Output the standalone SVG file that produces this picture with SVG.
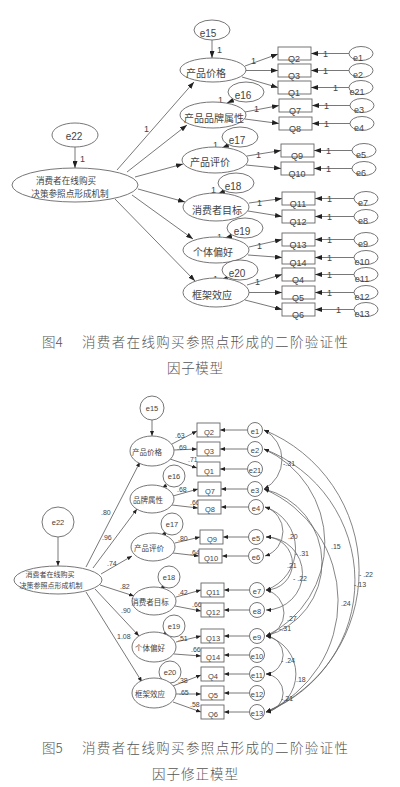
<svg xmlns="http://www.w3.org/2000/svg" width="400" height="787" viewBox="0 0 400 787">
<style>
text{font-family:"Liberation Sans","Noto Sans CJK SC",sans-serif;fill:#444}
.cn{font-family:"Noto Sans CJK SC",sans-serif}
.t9{font-size:9px}
.t85{font-size:8.6px}
.t10{font-size:10px}
.t7{font-size:7px}
.t75{font-size:7.5px}
.m{text-anchor:middle}
.sh{fill:#fff;stroke:#666;stroke-width:0.9}
.ln{fill:none;stroke:#555;stroke-width:0.8}
.a1{marker-end:url(#ah)}
.a2{marker-end:url(#bh)}
.cv{fill:none;stroke:#666;stroke-width:0.8;marker-start:url(#bs);marker-end:url(#bh)}
.cap{font-family:"Noto Sans CJK SC",sans-serif;font-size:13.5px;font-weight:300;fill:#555}
</style>
<defs>
<marker id="ah" markerUnits="userSpaceOnUse" markerWidth="7" markerHeight="5" refX="7" refY="2.5" orient="auto"><path d="M0,0 L7,2.5 L0,5 z" fill="#222"/></marker>
<marker id="bh" markerUnits="userSpaceOnUse" markerWidth="5" markerHeight="4" refX="5" refY="2" orient="auto"><path d="M0,0 L5,2 L0,4 z" fill="#222"/></marker>
<marker id="bs" markerUnits="userSpaceOnUse" markerWidth="5" markerHeight="4" refX="5" refY="2" orient="auto-start-reverse"><path d="M0,0 L5,2 L0,4 z" fill="#222"/></marker>
</defs>
<rect width="400" height="787" fill="#fff"/>

<!-- ===== Figure 4 ===== -->
<g id="fig4-connectors">
<line class="ln a1" x1="75" y1="147" x2="75" y2="168"/>
<line class="ln a1" x1="117" y1="170" x2="194" y2="82"/>
<line class="ln a1" x1="127" y1="172" x2="187" y2="125"/>
<line class="ln a1" x1="135" y1="177" x2="183" y2="164"/>
<line class="ln a1" x1="138" y1="189" x2="185" y2="202"/>
<line class="ln a1" x1="132" y1="195" x2="193" y2="239"/>
<line class="ln a1" x1="115" y1="199" x2="195" y2="281"/>
<line class="ln a1" x1="212" y1="40" x2="212" y2="58"/>
<line class="ln a1" x1="234" y1="100" x2="227" y2="103"/>
<line class="ln a1" x1="229" y1="145" x2="222" y2="148"/>
<line class="ln a1" x1="225" y1="191" x2="218" y2="194"/>
<line class="ln a1" x1="232" y1="236" x2="225" y2="238"/>
<line class="ln a1" x1="228" y1="278" x2="221" y2="280"/>
<line class="ln a1" x1="245" y1="66" x2="278" y2="54"/>
<line class="ln a1" x1="246" y1="70.5" x2="278" y2="70.5"/>
<line class="ln a1" x1="242" y1="77" x2="278" y2="87.5"/>
<line class="ln a1" x1="245" y1="112" x2="279" y2="105.5"/>
<line class="ln a1" x1="245" y1="119" x2="279" y2="123.5"/>
<line class="ln a1" x1="247" y1="156" x2="281" y2="150.5"/>
<line class="ln a1" x1="246" y1="165" x2="281" y2="168.5"/>
<line class="ln a1" x1="249" y1="203" x2="282" y2="198.5"/>
<line class="ln a1" x1="248" y1="211" x2="282" y2="216.5"/>
<line class="ln a1" x1="249" y1="247" x2="282" y2="239.5"/>
<line class="ln a1" x1="248" y1="255" x2="282" y2="257.5"/>
<line class="ln a1" x1="247" y1="285" x2="282" y2="274.5"/>
<line class="ln a1" x1="249" y1="292.5" x2="282" y2="292.5"/>
<line class="ln a1" x1="245" y1="300" x2="282" y2="309.5"/>
<line class="ln a1" x1="349" y1="53.5" x2="311" y2="53.5"/>
<line class="ln a1" x1="349" y1="70.5" x2="311" y2="70.5"/>
<line class="ln a1" x1="349" y1="87.5" x2="311" y2="87.5"/>
<line class="ln a1" x1="350" y1="105.5" x2="312" y2="105.5"/>
<line class="ln a1" x1="350" y1="123.5" x2="312" y2="123.5"/>
<line class="ln a1" x1="352" y1="150.5" x2="314" y2="150.5"/>
<line class="ln a1" x1="352" y1="168.5" x2="314" y2="168.5"/>
<line class="ln a1" x1="354" y1="198.5" x2="315" y2="198.5"/>
<line class="ln a1" x1="354" y1="216.5" x2="315" y2="216.5"/>
<line class="ln a1" x1="354" y1="239.5" x2="315" y2="239.5"/>
<line class="ln a1" x1="354" y1="257.5" x2="315" y2="257.5"/>
<line class="ln a1" x1="354" y1="274.5" x2="315" y2="274.5"/>
<line class="ln a1" x1="354" y1="292.5" x2="315" y2="292.5"/>
<line class="ln a1" x1="354" y1="309.5" x2="315" y2="309.5"/>
</g>
<g id="fig4-labels" class="t9">
<text x="80" y="162">1</text>
<text x="144" y="132">1</text>
<text x="217" y="53">1</text>
<text x="218" y="103">1</text>
<text x="213" y="148">1</text>
<text x="211" y="193">1</text>
<text x="217" y="240">1</text>
<text x="213" y="282">1</text>
<text x="251" y="64">1</text>
<text x="254" y="112">1</text>
<text x="256" y="158">1</text>
<text x="257" y="206">1</text>
<text x="257" y="249">1</text>
<text x="255" y="285">1</text>
<text x="323" y="57">1</text>
<text x="323" y="74">1</text>
<text x="333" y="91">1</text>
<text x="324" y="109">1</text>
<text x="324" y="127">1</text>
<text x="326" y="154">1</text>
<text x="326" y="172">1</text>
<text x="327" y="202">1</text>
<text x="327" y="220">1</text>
<text x="327" y="243">1</text>
<text x="327" y="261">1</text>
<text x="327" y="278">1</text>
<text x="327" y="296">1</text>
<text x="336" y="313">1</text>
</g>
<g id="f4-e22"><ellipse class="sh" cx="75" cy="135" rx="23" ry="12"/><text class="t10 m" x="74" y="140">e22</text></g>
<g id="f4-main"><ellipse class="sh" cx="75" cy="185" rx="63" ry="17"/><text class="cn t85 m" x="66" y="183.5">消费者在线购买</text><text class="cn t85 m" x="70" y="196.5">决策参照点形成机制</text></g>
<g id="f4-e15"><ellipse class="sh" cx="212" cy="30" rx="18" ry="10"/><text class="t10 m" x="208" y="37">e15</text></g>
<g id="f4-f1"><ellipse class="sh" cx="213" cy="70" rx="33" ry="12"/><text class="cn t10 m" x="206" y="77">产品价格</text></g>
<g id="f4-e16"><ellipse class="sh" cx="246" cy="92" rx="18" ry="10"/><text class="t10 m" x="243" y="99">e16</text></g>
<g id="f4-f2"><ellipse class="sh" cx="213" cy="115" rx="33" ry="13"/><text class="cn t10 m" x="214" y="122">产品品牌属性</text></g>
<g id="f4-e17"><ellipse class="sh" cx="240" cy="137" rx="18" ry="10"/><text class="t10 m" x="237" y="144">e17</text></g>
<g id="f4-f3"><ellipse class="sh" cx="215" cy="160" rx="33" ry="13"/><text class="cn t10 m" x="210" y="166">产品评价</text></g>
<g id="f4-e18"><ellipse class="sh" cx="236" cy="183" rx="18" ry="10"/><text class="t10 m" x="233" y="190">e18</text></g>
<g id="f4-f4"><ellipse class="sh" cx="216" cy="207" rx="33" ry="14"/><text class="cn t10 m" x="217" y="214">消费者目标</text></g>
<g id="f4-e19"><ellipse class="sh" cx="245" cy="228" rx="18" ry="10"/><text class="t10 m" x="242" y="235">e19</text></g>
<g id="f4-f5"><ellipse class="sh" cx="216" cy="250" rx="33" ry="13"/><text class="cn t10 m" x="213" y="256">个体偏好</text></g>
<g id="f4-e20"><ellipse class="sh" cx="240" cy="270" rx="18" ry="10"/><text class="t10 m" x="237" y="277">e20</text></g>
<g id="f4-f6"><ellipse class="sh" cx="216" cy="292.5" rx="33" ry="14.5"/><text class="cn t10 m" x="212" y="299">框架效应</text></g>
<g id="f4-q2"><rect class="sh" x="278" y="47" width="33" height="13"/><text class="t9 m" x="294" y="62">Q2</text></g>
<g id="f4-q3"><rect class="sh" x="278" y="64" width="33" height="13"/><text class="t9 m" x="294" y="79">Q3</text></g>
<g id="f4-q1"><rect class="sh" x="278" y="81" width="33" height="13"/><text class="t9 m" x="294" y="96">Q1</text></g>
<g id="f4-q7"><rect class="sh" x="279" y="99" width="33" height="13"/><text class="t9 m" x="295" y="114">Q7</text></g>
<g id="f4-q8"><rect class="sh" x="279" y="117" width="33" height="13"/><text class="t9 m" x="295" y="132">Q8</text></g>
<g id="f4-q9"><rect class="sh" x="281" y="144" width="33" height="13"/><text class="t9 m" x="297" y="159">Q9</text></g>
<g id="f4-q10"><rect class="sh" x="281" y="162" width="33" height="13"/><text class="t9 m" x="297" y="177">Q10</text></g>
<g id="f4-q11"><rect class="sh" x="282" y="192" width="33" height="13"/><text class="t9 m" x="298" y="207">Q11</text></g>
<g id="f4-q12"><rect class="sh" x="282" y="210" width="33" height="13"/><text class="t9 m" x="298" y="225">Q12</text></g>
<g id="f4-q13"><rect class="sh" x="282" y="233" width="33" height="13"/><text class="t9 m" x="298" y="248">Q13</text></g>
<g id="f4-q14"><rect class="sh" x="282" y="251" width="33" height="13"/><text class="t9 m" x="298" y="266">Q14</text></g>
<g id="f4-q4"><rect class="sh" x="282" y="268" width="33" height="13"/><text class="t9 m" x="298" y="283">Q4</text></g>
<g id="f4-q5"><rect class="sh" x="282" y="286" width="33" height="13"/><text class="t9 m" x="298" y="301">Q5</text></g>
<g id="f4-q6"><rect class="sh" x="282" y="303" width="33" height="13"/><text class="t9 m" x="298" y="318">Q6</text></g>
<g id="f4-e1"><ellipse class="sh" cx="361" cy="53.5" rx="12" ry="7"/><text class="t9 m" x="358" y="61">e1</text></g>
<g id="f4-e2"><ellipse class="sh" cx="361" cy="70.5" rx="12" ry="7"/><text class="t9 m" x="358" y="78">e2</text></g>
<g id="f4-e21"><ellipse class="sh" cx="361" cy="87.5" rx="12" ry="7"/><text class="t9 m" x="357" y="95">e21</text></g>
<g id="f4-e3"><ellipse class="sh" cx="362" cy="105.5" rx="12" ry="7"/><text class="t9 m" x="359" y="113">e3</text></g>
<g id="f4-e4"><ellipse class="sh" cx="362" cy="123.5" rx="12" ry="7"/><text class="t9 m" x="359" y="131">e4</text></g>
<g id="f4-e5"><ellipse class="sh" cx="364" cy="150.5" rx="12" ry="7"/><text class="t9 m" x="361" y="158">e5</text></g>
<g id="f4-e6"><ellipse class="sh" cx="364" cy="168.5" rx="12" ry="7"/><text class="t9 m" x="361" y="176">e6</text></g>
<g id="f4-e7"><ellipse class="sh" cx="366" cy="198.5" rx="12" ry="7"/><text class="t9 m" x="363" y="206">e7</text></g>
<g id="f4-e8"><ellipse class="sh" cx="366" cy="216.5" rx="12" ry="7"/><text class="t9 m" x="363" y="224">e8</text></g>
<g id="f4-e9"><ellipse class="sh" cx="366" cy="239.5" rx="12" ry="7"/><text class="t9 m" x="363" y="247">e9</text></g>
<g id="f4-e10"><ellipse class="sh" cx="366" cy="257.5" rx="12" ry="7"/><text class="t9 m" x="362" y="265">e10</text></g>
<g id="f4-e11"><ellipse class="sh" cx="366" cy="274.5" rx="12" ry="7"/><text class="t9 m" x="362" y="282">e11</text></g>
<g id="f4-e12"><ellipse class="sh" cx="366" cy="292.5" rx="12" ry="7"/><text class="t9 m" x="362" y="300">e12</text></g>
<g id="f4-e13"><ellipse class="sh" cx="366" cy="309.5" rx="12" ry="7"/><text class="t9 m" x="362" y="317">e13</text></g>

<g id="caption4">
<text class="cap" x="42" y="347">图4</text>
<text class="cap" x="82" y="347" textLength="266" lengthAdjust="spacing">消费者在线购买参照点形成的二阶验证性</text>
<text class="cap" x="167" y="373" textLength="56" lengthAdjust="spacing">因子模型</text>
</g>

<!-- ===== Figure 5 ===== -->
<g id="fig5-connectors">
<line class="ln a2" x1="58" y1="537" x2="58" y2="566"/>
<line class="ln a2" x1="86" y1="567" x2="140" y2="462"/>
<line class="ln a2" x1="93" y1="568" x2="137" y2="509"/>
<line class="ln a2" x1="101" y1="574" x2="132" y2="556"/>
<line class="ln a2" x1="100" y1="585" x2="134" y2="596"/>
<line class="ln a2" x1="95" y1="589" x2="139" y2="636"/>
<line class="ln a2" x1="86" y1="592" x2="142" y2="682"/>
<line class="ln a2" x1="152" y1="420" x2="152" y2="436"/>
<line class="ln a2" x1="167" y1="485" x2="162" y2="488"/>
<line class="ln a2" x1="166" y1="533" x2="161" y2="535"/>
<line class="ln a2" x1="164" y1="586" x2="160" y2="589"/>
<line class="ln a2" x1="166" y1="633" x2="162" y2="634.5"/>
<line class="ln a2" x1="164" y1="680" x2="160" y2="681"/>
<line class="ln a2" x1="172" y1="444" x2="197" y2="431"/>
<line class="ln a2" x1="174" y1="450" x2="197" y2="449"/>
<line class="ln a2" x1="170" y1="459" x2="197" y2="468"/>
<line class="ln a2" x1="173" y1="496" x2="198" y2="489"/>
<line class="ln a2" x1="172" y1="505" x2="198" y2="508"/>
<line class="ln a2" x1="175" y1="543" x2="200" y2="537"/>
<line class="ln a2" x1="173" y1="553" x2="199" y2="556"/>
<line class="ln a2" x1="176" y1="597" x2="201" y2="590"/>
<line class="ln a2" x1="175" y1="606" x2="201" y2="611"/>
<line class="ln a2" x1="176" y1="642" x2="201" y2="636"/>
<line class="ln a2" x1="174" y1="654" x2="201" y2="656"/>
<line class="ln a2" x1="173" y1="686" x2="201" y2="675"/>
<line class="ln a2" x1="176" y1="694" x2="201" y2="694"/>
<line class="ln a2" x1="173" y1="702" x2="201" y2="712"/>
<line class="ln a2" x1="247.5" y1="430" x2="220" y2="430"/>
<line class="ln a2" x1="247.5" y1="449" x2="220" y2="449"/>
<line class="ln a2" x1="247.5" y1="469" x2="220" y2="469"/>
<line class="ln a2" x1="247.5" y1="489" x2="221" y2="489"/>
<line class="ln a2" x1="248.5" y1="507" x2="221" y2="507"/>
<line class="ln a2" x1="248.5" y1="537" x2="223" y2="537"/>
<line class="ln a2" x1="248.5" y1="556" x2="222" y2="556"/>
<line class="ln a2" x1="249.5" y1="590" x2="224" y2="590"/>
<line class="ln a2" x1="249.5" y1="610" x2="224" y2="610"/>
<line class="ln a2" x1="249.5" y1="636" x2="224" y2="636"/>
<line class="ln a2" x1="249.5" y1="655" x2="224" y2="655"/>
<line class="ln a2" x1="249.5" y1="674" x2="224" y2="674"/>
<line class="ln a2" x1="249.5" y1="693" x2="224" y2="693"/>
<line class="ln a2" x1="249.5" y1="712" x2="224" y2="712"/>
<path class="cv" d="M264,430 A33.2,33.2 0 0 1 264,489"/>
<path class="cv" d="M265,507 A25.7,25.7 0 0 1 265,556"/>
<path class="cv" d="M265,507 A43.7,43.7 0 0 1 266,590"/>
<path class="cv" d="M266,537 A26.5,26.5 0 0 1 266,590"/>
<path class="cv" d="M266,537 A36.5,36.5 0 0 1 266,610"/>
<path class="cv" d="M266,590 A23.7,23.7 0 0 1 266,636"/>
<path class="cv" d="M264,489 A75.9,75.9 0 0 1 266,636"/>
<path class="cv" d="M266,636 A19.1,19.1 0 0 1 266,674"/>
<path class="cv" d="M266,636 A39.1,39.1 0 0 1 266,712"/>
<path class="cv" d="M266,674 A19.1,19.1 0 0 1 266,712"/>
<path class="cv" d="M264,430 A152.7,152.7 0 0 1 266,712"/>
<path class="cv" d="M264,449 A141.1,141.1 0 0 1 266,712"/>
<path class="cv" d="M264,489 A121.6,121.6 0 0 1 266,712"/>
<path class="cv" d="M264,449 A103,103 0 0 1 266,636"/>
</g>
<g id="fig5-labels" class="t7">
<text x="101" y="515">.80</text>
<text x="102" y="540">.96</text>
<text x="107" y="566">.74</text>
<text x="120" y="589">.82</text>
<text x="121" y="613">.90</text>
<text x="117" y="639">1.08</text>
<text x="175" y="438">.63</text>
<text x="177" y="450">.69</text>
<text x="188" y="462">.71</text>
<text x="177" y="492">.68</text>
<text x="190" y="505">.66</text>
<text x="178" y="541">.80</text>
<text x="190" y="555">.64</text>
<text x="178" y="595">.42</text>
<text x="192" y="607">.66</text>
<text x="178" y="641">.51</text>
<text x="191" y="652">.66</text>
<text x="178" y="683">.38</text>
<text x="179" y="695">.65</text>
<text x="190" y="707">.58</text>
<text x="283" y="466">-.31</text>
<text x="288" y="539">.20</text>
<text x="295" y="556">- .31</text>
<text x="287" y="568">.21</text>
<text x="293" y="581">- .22</text>
<text x="279" y="631">-.31</text>
<text x="287" y="621">.27</text>
<text x="281" y="663">- .24</text>
<text x="296" y="682">.18</text>
<text x="281" y="701">-.21</text>
<text x="359" y="577">- .22</text>
<text x="354" y="587">-.13</text>
<text x="341" y="606">.24</text>
<text x="331" y="549">.15</text>
</g>
<g id="f5-e15"><circle class="sh" cx="152" cy="408" r="12"/><text class="t75 m" x="152" y="411">e15</text></g>
<g id="f5-f1"><ellipse class="sh" cx="152" cy="451" rx="22" ry="15"/><text class="cn t75 m" x="147" y="455">产品价格</text></g>
<g id="f5-e16"><circle class="sh" cx="174" cy="476" r="11"/><text class="t75 m" x="174" y="479">e16</text></g>
<g id="f5-f2"><ellipse class="sh" cx="152" cy="499" rx="22" ry="14"/><text class="cn t75 m" x="148" y="503">品牌属性</text></g>
<g id="f5-e17"><circle class="sh" cx="172" cy="524" r="11"/><text class="t75 m" x="172" y="527">e17</text></g>
<g id="f5-f3"><ellipse class="sh" cx="153" cy="547" rx="22" ry="14"/><text class="cn t75 m" x="149" y="551">产品评价</text></g>
<g id="f5-e18"><circle class="sh" cx="169" cy="577" r="11"/><text class="t75 m" x="169" y="580">e18</text></g>
<g id="f5-f4"><ellipse class="sh" cx="154" cy="601" rx="22" ry="14"/><text class="cn t75 m" x="150" y="605">消费者目标</text></g>
<g id="f5-e19"><circle class="sh" cx="174" cy="626" r="11"/><text class="t75 m" x="174" y="629">e19</text></g>
<g id="f5-f5"><ellipse class="sh" cx="154" cy="647" rx="22" ry="15"/><text class="cn t75 m" x="150" y="651">个体偏好</text></g>
<g id="f5-e20"><circle class="sh" cx="170" cy="672" r="11"/><text class="t75 m" x="170" y="675">e20</text></g>
<g id="f5-f6"><ellipse class="sh" cx="154" cy="693" rx="22" ry="15"/><text class="cn t75 m" x="150" y="697">框架效应</text></g>
<g id="f5-e22"><ellipse class="sh" cx="58" cy="522" rx="16" ry="15"/><text class="t75 m" x="58" y="525">e22</text></g>
<g id="f5-main"><ellipse class="sh" cx="58" cy="580" rx="44" ry="14"/><text class="cn t7 m" x="50" y="577">消费者在线购买</text><text class="cn t7 m" x="51" y="588">决策参照点形成机制</text></g>
<g id="f5-q2"><rect class="sh" x="197" y="423" width="23" height="14"/><text class="t75 m" x="209" y="435">Q2</text></g>
<g id="f5-q3"><rect class="sh" x="197" y="442" width="23" height="14"/><text class="t75 m" x="209" y="454">Q3</text></g>
<g id="f5-q1"><rect class="sh" x="197" y="462" width="23" height="14"/><text class="t75 m" x="209" y="474">Q1</text></g>
<g id="f5-q7"><rect class="sh" x="198" y="482" width="23" height="14"/><text class="t75 m" x="210" y="494">Q7</text></g>
<g id="f5-q8"><rect class="sh" x="198" y="500" width="23" height="14"/><text class="t75 m" x="210" y="512">Q8</text></g>
<g id="f5-q9"><rect class="sh" x="200" y="530" width="23" height="14"/><text class="t75 m" x="212" y="542">Q9</text></g>
<g id="f5-q10"><rect class="sh" x="199" y="549" width="23" height="14"/><text class="t75 m" x="211" y="561">Q10</text></g>
<g id="f5-q11"><rect class="sh" x="201" y="583" width="23" height="14"/><text class="t75 m" x="213" y="595">Q11</text></g>
<g id="f5-q12"><rect class="sh" x="201" y="603" width="23" height="14"/><text class="t75 m" x="213" y="615">Q12</text></g>
<g id="f5-q13"><rect class="sh" x="201" y="629" width="23" height="14"/><text class="t75 m" x="213" y="641">Q13</text></g>
<g id="f5-q14"><rect class="sh" x="201" y="648" width="23" height="14"/><text class="t75 m" x="213" y="660">Q14</text></g>
<g id="f5-q4"><rect class="sh" x="201" y="667" width="23" height="14"/><text class="t75 m" x="213" y="679">Q4</text></g>
<g id="f5-q5"><rect class="sh" x="201" y="686" width="23" height="14"/><text class="t75 m" x="213" y="698">Q5</text></g>
<g id="f5-q6"><rect class="sh" x="201" y="705" width="23" height="14"/><text class="t75 m" x="213" y="717">Q6</text></g>
<g id="f5-e1"><circle class="sh" cx="255" cy="430" r="7.5"/><text class="t75 m" x="255" y="434">e1</text></g>
<g id="f5-e2"><circle class="sh" cx="255" cy="449" r="7.5"/><text class="t75 m" x="255" y="453">e2</text></g>
<g id="f5-e21"><circle class="sh" cx="255" cy="469" r="7.5"/><text class="t75 m" x="255" y="473">e21</text></g>
<g id="f5-e3"><circle class="sh" cx="255" cy="489" r="7.5"/><text class="t75 m" x="255" y="493">e3</text></g>
<g id="f5-e4"><circle class="sh" cx="256" cy="507" r="7.5"/><text class="t75 m" x="256" y="511">e4</text></g>
<g id="f5-e5"><circle class="sh" cx="256" cy="537" r="7.5"/><text class="t75 m" x="256" y="541">e5</text></g>
<g id="f5-e6"><circle class="sh" cx="256" cy="556" r="7.5"/><text class="t75 m" x="256" y="560">e6</text></g>
<g id="f5-e7"><circle class="sh" cx="257" cy="590" r="7.5"/><text class="t75 m" x="257" y="594">e7</text></g>
<g id="f5-e8"><circle class="sh" cx="257" cy="610" r="7.5"/><text class="t75 m" x="257" y="614">e8</text></g>
<g id="f5-e9"><circle class="sh" cx="257" cy="636" r="7.5"/><text class="t75 m" x="257" y="640">e9</text></g>
<g id="f5-e10"><circle class="sh" cx="257" cy="655" r="7.5"/><text class="t75 m" x="257" y="659">e10</text></g>
<g id="f5-e11"><circle class="sh" cx="257" cy="674" r="7.5"/><text class="t75 m" x="257" y="678">e11</text></g>
<g id="f5-e12"><circle class="sh" cx="257" cy="693" r="7.5"/><text class="t75 m" x="257" y="697">e12</text></g>
<g id="f5-e13"><circle class="sh" cx="257" cy="712" r="7.5"/><text class="t75 m" x="257" y="716">e13</text></g>

<g id="caption5">
<text class="cap" x="42" y="753">图5</text>
<text class="cap" x="82" y="753" textLength="266" lengthAdjust="spacing">消费者在线购买参照点形成的二阶验证性</text>
<text class="cap" x="152" y="779" textLength="86" lengthAdjust="spacing">因子修正模型</text>
</g>
</svg>
